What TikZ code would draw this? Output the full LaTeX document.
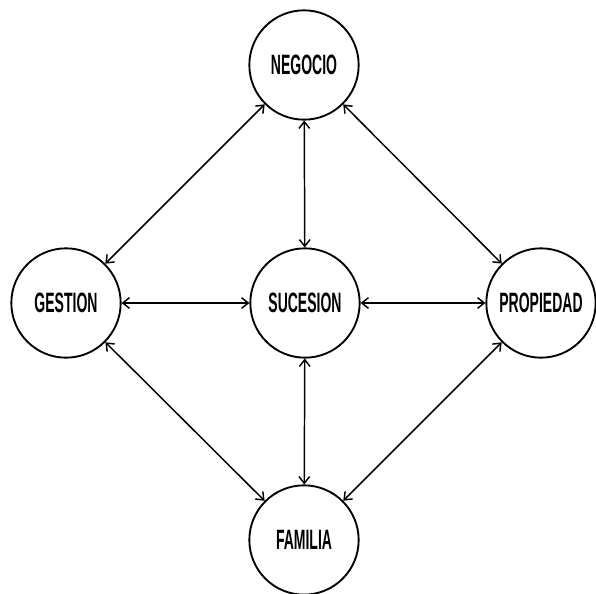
\documentclass[tikz,border=0pt]{standalone}
\usepackage{fontspec}
\setmainfont{Liberation Sans}
\usepackage{graphicx}
\usetikzlibrary{arrows.meta}

\newcommand{\etiqueta}[1]{\scalebox{0.5}[1]{\fontsize{21}{24}\selectfont\bfseries #1}}

\begin{document}
\begin{tikzpicture}[x=0.75pt, y=-0.75pt]
		\tikzset{
			estado/.style={circle, draw, line width=1.4pt, minimum size=82pt, inner sep=0pt},
			flecha/.style={{Straight Barb[length=5pt,width=8pt]}-{Straight Barb[length=5pt,width=8pt]}, line width=1.1pt}
		}
		\useasboundingbox (0,0) rectangle (596,593);
		% circulos
		\node[estado] (neg) at (304,65) {\etiqueta{NEGOCIO}};
		\node[estado] (ges) at (66,303) {\etiqueta{GESTION}};
		\node[estado] (suc) at (305,303) {\etiqueta{SUCESION}};
		\node[estado] (pro) at (541,303) {\etiqueta{PROPIEDAD}};
		\node[estado] (fam) at (304,540) {\etiqueta{FAMILIA}};
		% flechas
		\foreach \a/\b in {neg/ges, neg/suc, neg/pro, ges/suc, suc/pro, ges/fam, suc/fam, pro/fam} {
			\draw[flecha] (\a) -- (\b);
		}
	\end{tikzpicture}
\end{document}
